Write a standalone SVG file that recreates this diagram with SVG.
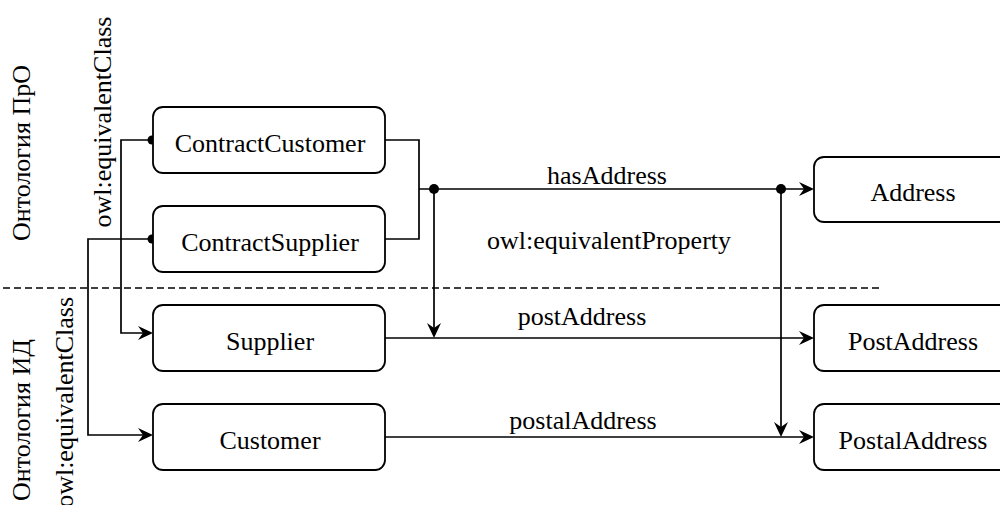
<svg xmlns="http://www.w3.org/2000/svg" width="1000" height="505" viewBox="0 0 1000 505">
  <defs>
    <style>
      .node rect { fill: #ffffff; stroke: #000000; stroke-width: 1.8; }
      .label { font-family: "Liberation Serif", "Times New Roman", serif; font-size: 26px; fill: #000000; }
      .node text { text-anchor: middle; }
      .edge { fill: none; stroke: #000000; stroke-width: 1.7; }
      .dot { fill: #000000; }
      .sep { stroke: #000000; stroke-width: 1.4; stroke-dasharray: 7 4; fill: none; }
    </style>
    <!-- arrowhead with its tip at the origin, pointing along +x -->
    <path id="head" d="M0,0 L-15,-7 L-10,0 L-15,7 Z" fill="#000000"/>
  </defs>

  <rect width="1000" height="505" fill="#ffffff"/>

  <!-- layer separator -->
  <line class="sep" x1="3" y1="288" x2="880" y2="288"/>

  <!-- layer and relation captions -->
  <g id="captions" class="label">
    <text transform="translate(30,153) rotate(-90)" text-anchor="middle">Онтология ПрО</text>
    <text transform="translate(30,420) rotate(-90)" text-anchor="middle">Онтология ИД</text>
    <text transform="translate(111,122) rotate(-90)" text-anchor="middle">owl:equivalentClass</text>
    <text transform="translate(73,297) rotate(-90)" text-anchor="end">owl:equivalentClass</text>
  </g>

  <!-- connectors -->
  <g id="connectors">
    <path class="edge" d="M385,140 H419 V189"/>
    <path class="edge" d="M385,239 H419 V189"/>
    <path class="edge" d="M419,189 H804"/>
    <path class="edge" d="M434,189 V328"/>
    <path class="edge" d="M781,189 V427"/>
    <path class="edge" d="M385,338 H804"/>
    <path class="edge" d="M385,437 H804"/>
    <path class="edge" d="M150,140 H121 V333 H143"/>
    <path class="edge" d="M150,239 H88 V435 H143"/>
    <use href="#head" transform="translate(814,189)"/>
    <use href="#head" transform="translate(814,338)"/>
    <use href="#head" transform="translate(814,437)"/>
    <use href="#head" transform="translate(153,333)"/>
    <use href="#head" transform="translate(153,435)"/>
    <use href="#head" transform="translate(434,338) rotate(90)"/>
    <use href="#head" transform="translate(781,437) rotate(90)"/>
    <circle class="dot" cx="434" cy="189" r="5"/>
    <circle class="dot" cx="781" cy="189" r="5"/>
    <circle class="dot" cx="152" cy="140" r="4.5"/>
    <circle class="dot" cx="152" cy="239" r="4.5"/>
    <g class="label" text-anchor="middle">
      <text x="607" y="184">hasAddress</text>
      <text x="609" y="249">owl:equivalentProperty</text>
      <text x="582" y="325">postAddress</text>
      <text x="583" y="429">postalAddress</text>
    </g>
  </g>

  <!-- classes -->
  <g id="ContractCustomer" class="node">
    <rect x="153" y="107" width="232" height="66" rx="10"/>
    <text class="label" x="270" y="152">ContractCustomer</text>
  </g>
  <g id="ContractSupplier" class="node">
    <rect x="153" y="206" width="232" height="66" rx="10"/>
    <text class="label" x="270" y="251">ContractSupplier</text>
  </g>
  <g id="Supplier" class="node">
    <rect x="153" y="305" width="232" height="66" rx="10"/>
    <text class="label" x="270" y="350">Supplier</text>
  </g>
  <g id="Customer" class="node">
    <rect x="153" y="404" width="232" height="66" rx="10"/>
    <text class="label" x="270" y="449">Customer</text>
  </g>
  <g id="Address" class="node">
    <rect x="814" y="157" width="200" height="65" rx="10"/>
    <text class="label" x="913" y="201">Address</text>
  </g>
  <g id="PostAddress" class="node">
    <rect x="814" y="305" width="200" height="66" rx="10"/>
    <text class="label" x="913" y="350">PostAddress</text>
  </g>
  <g id="PostalAddress" class="node">
    <rect x="814" y="404" width="200" height="66" rx="10"/>
    <text class="label" x="913" y="449">PostalAddress</text>
  </g>
</svg>
